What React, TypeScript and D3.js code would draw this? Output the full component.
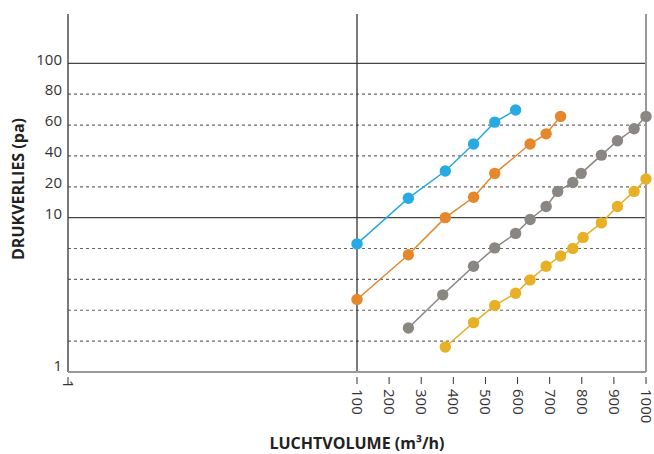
import React from "react";
import * as d3 from "d3";

// axis levels (the chart uses evenly spaced grid levels, not a true log scale)
const yLevels = [1, 2, 4, 6, 8, 10, 20, 40, 60, 80, 100];
const yLabels = [1, 10, 20, 40, 60, 80, 100];
const ySolid = [10, 100];
const xTicks = [1, 100, 200, 300, 400, 500, 600, 700, 800, 900, 1000];

// series: luchtvolume (m3/h) vs drukverlies (pa)
const blueX = [100, 260, 375, 463, 529, 594];
const blueY = [8.3, 16.3, 30.2, 47.7, 61.9, 69.7];
const orangeX = [100, 260, 375, 463, 529, 639, 689, 734];
const orangeY = [4.7, 7.6, 10, 16.6, 28.7, 47.7, 54.3, 65.6];
const grayX = [260, 367, 463, 529, 594, 639, 689, 725, 772, 798, 861, 911, 963, 1000];
const grayY = [2.85, 5, 6.85, 8.04, 8.98, 9.88, 13.6, 18.5, 22.8, 28.7, 40.5, 49.8, 57.6, 65.6];
const yellowX = [375, 463, 529, 594, 639, 689, 734, 772, 804, 861, 911, 963, 1000];
const yellowY = [1.81, 3.2, 4.31, 5.1, 5.97, 6.85, 7.52, 8.0, 8.72, 9.66, 13.6, 18.5, 25];

const series = [
  { name: "blue", color: "#27a9e1", xs: blueX, ys: blueY },
  { name: "orange", color: "#e5872b", xs: orangeX, ys: orangeY },
  { name: "gray", color: "#8a8782", xs: grayX, ys: grayY },
  { name: "yellow", color: "#e8b025", xs: yellowX, ys: yellowY },
];

const width = 654;
const height = 454;
const left = 68;
const right = 646;
const top = 14;
const bottom = 372;
const yTop = 63.3;

const App = () => {
  const x = d3.scaleLinear().domain([1, 100, 1000]).range([left, 357, right]);
  const y = d3
    .scaleLinear()
    .domain(yLevels)
    .range(yLevels.map((_, i) => bottom - (i * (bottom - yTop)) / (yLevels.length - 1)));

  const line = d3
    .line<[number, number]>()
    .x((d) => x(d[0]))
    .y((d) => y(d[1]));

  const font = "'Open Sans', sans-serif";

  return (
    <svg
      width={width}
      height={height}
      style={{ position: "absolute", left: 0, top: 0, background: "#fff" }}
      fontFamily={font}
    >
      {/* horizontal grid */}
      {yLevels
        .filter((v) => v !== 1)
        .map((v) => (
          <line
            key={"g" + v}
            x1={left}
            x2={right}
            y1={y(v)}
            y2={y(v)}
            stroke={ySolid.includes(v) ? "#444" : "#666"}
            strokeWidth={ySolid.includes(v) ? 1.3 : 1.2}
            strokeDasharray={ySolid.includes(v) ? undefined : "3,3"}
          />
        ))}

      {/* vertical lines */}
      <line x1={left} x2={left} y1={top} y2={bottom} stroke="#333" strokeWidth={1.3} />
      <line x1={x(100)} x2={x(100)} y1={top} y2={bottom} stroke="#333" strokeWidth={1.3} />
      <line x1={right} x2={right} y1={top} y2={bottom} stroke="#999" strokeWidth={2} />
      <line x1={left} x2={right} y1={bottom} y2={bottom} stroke="#999" strokeWidth={2} />

      {/* y labels */}
      {yLabels.map((v) => (
        <text
          key={"yl" + v}
          x={62}
          y={y(v) - (v === 1 ? 6 : 4)}
          dy="0.35em"
          textAnchor="end"
          fontSize={15}
          fill="#333"
        >
          {v}
        </text>
      ))}

      {/* x ticks + labels */}
      {xTicks.map((v) => (
        <g key={"xt" + v} transform={`translate(${x(v)},0)`}>
          <line y1={377} y2={384} stroke="#333" strokeWidth={1} />
          <text
            transform={`translate(0,${v === 1 ? 380 : 389}) rotate(90)`}
            dy="0.33em"
            fontSize={15}
            fill="#333"
          >
            {v}
          </text>
        </g>
      ))}

      {/* series */}
      {series.map((s) => {
        const pts = s.xs.map((xv, i) => [xv, s.ys[i]] as [number, number]);
        return (
          <g key={s.name}>
            <path d={line(pts) || ""} fill="none" stroke={s.color} strokeWidth={1.5} />
            {pts.map((p, i) => (
              <circle key={i} cx={x(p[0])} cy={y(p[1])} r={5.7} fill={s.color} />
            ))}
          </g>
        );
      })}

      {/* axis titles */}
      <text x={357} y={449} textAnchor="middle" fontSize={16} fontWeight="bold" fill="#222">
        LUCHTVOLUME (m³/h)
      </text>
      <text
        transform="translate(24,189) rotate(-90)"
        textAnchor="middle"
        fontSize={16}
        fontWeight="bold"
        fill="#222"
      >
        DRUKVERLIES (pa)
      </text>
    </svg>
  );
};

export default App;
